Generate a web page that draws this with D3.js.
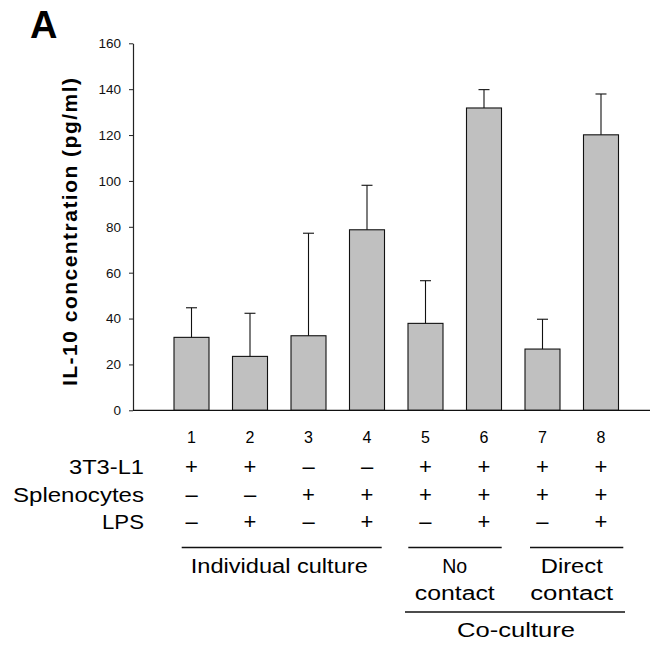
<!DOCTYPE html>
<html>
<head>
<meta charset="utf-8">
<script src="https://cdn.jsdelivr.net/npm/d3@7"></script>
<style>
  html, body { margin: 0; padding: 0; background: #fff; }
  svg { display: block; font-family: "Liberation Sans", Arial, sans-serif; }
</style>
</head>
<body>
<svg id="chart" width="650" height="645"></svg>
<script>
// ---- data ----
const groups = ["1", "2", "3", "4", "5", "6", "7", "8"];
const means = [31.8, 23.5, 32.5, 78.7, 37.9, 131.8, 26.7, 120.1];
const errTops = [44.7, 42.3, 77.2, 98.1, 56.5, 139.8, 39.7, 137.9];
const yTicks = [0, 20, 40, 60, 80, 100, 120, 140, 160];
const rowLabels = ["3T3-L1", "Splenocytes", "LPS"];
const row3T3 = ["+", "+", "–", "–", "+", "+", "+", "+"];
const rowSpleno = ["–", "–", "+", "+", "+", "+", "+", "+"];
const rowLPS = ["–", "+", "–", "+", "–", "+", "–", "+"];
const yTitle = "IL-10 concentration (pg/ml)";
const panelLabel = "A";
const brackets = [
  { from: "1", to: "4", lines: ["Individual culture"] },
  { from: "5", to: "6", lines: ["No", "contact"] },
  { from: "7", to: "8", lines: ["Direct", "contact"] }
];
const outerBracket = { from: "5", to: "8", label: "Co-culture" };

// ---- layout ----
const FONT = "'Liberation Sans', Arial, sans-serif";
const svg = d3.select("#chart");
const axisX = 133, y0 = 410.3, yTop = 43.3, step = 58.5;

const x = d3.scaleBand()
  .domain(groups)
  .range([axisX + step * 0.5, axisX + step * 8.5])
  .paddingInner(0.4017)
  .paddingOuter(0.2009);

const y = d3.scaleLinear().domain([0, 160]).range([y0, yTop]);

// panel letter
svg.append("text")
  .attr("x", 30).attr("y", 38)
  .attr("font-size", 38).attr("font-weight", "bold")
  .text(panelLabel);

// y axis
const yAxis = svg.append("g")
  .attr("transform", `translate(${axisX},0)`)
  .call(d3.axisLeft(y).tickValues(yTicks).tickSize(4).tickPadding(8).tickSizeOuter(0));
yAxis.select(".domain").attr("stroke", "#222").attr("stroke-width", 1.2);
yAxis.selectAll(".tick line").attr("stroke", "#222").attr("stroke-width", 1);
yAxis.selectAll(".tick text")
  .attr("font-size", 13.5)
  .attr("font-family", FONT)
  .attr("fill", "#111");

// y title
svg.append("text")
  .attr("transform", `translate(77,232) rotate(-90)`)
  .attr("text-anchor", "middle")
  .attr("font-size", 21).attr("font-weight", "bold")
  .attr("textLength", 308).attr("lengthAdjust", "spacing")
  .text(yTitle);

// bars
svg.append("g").selectAll("rect")
  .data(groups)
  .join("rect")
  .attr("x", d => x(d))
  .attr("y", (d, i) => y(means[i]))
  .attr("width", x.bandwidth())
  .attr("height", (d, i) => y(0) - y(means[i]))
  .attr("fill", "#c0c0c0")
  .attr("stroke", "#111")
  .attr("stroke-width", 1.1);

// error bars
const eb = svg.append("g").attr("stroke", "#111").attr("stroke-width", 1.1);
groups.forEach((g, i) => {
  const cx = x(g) + x.bandwidth() / 2;
  eb.append("line").attr("x1", cx).attr("x2", cx).attr("y1", y(means[i])).attr("y2", y(errTops[i]));
  eb.append("line").attr("x1", cx - 5.5).attr("x2", cx + 5.5).attr("y1", y(errTops[i])).attr("y2", y(errTops[i]));
});

// x axis baseline
svg.append("line")
  .attr("x1", axisX).attr("x2", 650)
  .attr("y1", y(0)).attr("y2", y(0))
  .attr("stroke", "#111").attr("stroke-width", 1.3);

// group numbers
const cxOf = g => x(g) + x.bandwidth() / 2;
svg.append("g").selectAll("text")
  .data(groups)
  .join("text")
  .attr("x", d => cxOf(d))
  .attr("y", 443)
  .attr("text-anchor", "middle")
  .attr("font-size", 16)
  .text(d => d);

// row labels
const rowY = [474, 502, 529];
const rowLen = [75, 131, 42];
svg.append("g").selectAll("text")
  .data(rowLabels)
  .join("text")
  .attr("x", 144)
  .attr("y", (d, i) => rowY[i])
  .attr("text-anchor", "end")
  .attr("font-size", 20)
  .attr("textLength", (d, i) => rowLen[i])
  .attr("lengthAdjust", "spacingAndGlyphs")
  .text(d => d);

// signs
[row3T3, rowSpleno, rowLPS].forEach((row, r) => {
  svg.append("g").selectAll("text")
    .data(row)
    .join("text")
    .attr("x", (d, i) => cxOf(groups[i]))
    .attr("y", rowY[r])
    .attr("text-anchor", "middle")
    .attr("font-size", 22)
    .text(d => d);
});

// brackets
const bracketSpan = [[181.7, 381.7], [408.3, 501.7], [530, 623.3]];
const bracketTextLen = [[177], [25, 80], [62, 83]];
brackets.forEach((b, k) => {
  const [xa, xb] = bracketSpan[k];
  svg.append("line")
    .attr("x1", xa).attr("x2", xb)
    .attr("y1", 547.5).attr("y2", 547.5)
    .attr("stroke", "#111").attr("stroke-width", 1.6);
  const mid = (cxOf(b.from) + cxOf(b.to)) / 2;
  b.lines.forEach((t, j) => {
    svg.append("text")
      .attr("x", mid).attr("y", 573 + j * 27)
      .attr("text-anchor", "middle")
      .attr("font-size", 20)
      .attr("textLength", bracketTextLen[k][j])
      .attr("lengthAdjust", "spacingAndGlyphs")
      .text(t);
  });
});

// outer bracket
svg.append("line")
  .attr("x1", 405).attr("x2", 625)
  .attr("y1", 612).attr("y2", 612)
  .attr("stroke", "#111").attr("stroke-width", 1.6);
svg.append("text")
  .attr("x", 516).attr("y", 637)
  .attr("text-anchor", "middle")
  .attr("font-size", 20)
  .attr("textLength", 118)
  .attr("lengthAdjust", "spacingAndGlyphs")
  .text(outerBracket.label);
</script>
</body>
</html>
